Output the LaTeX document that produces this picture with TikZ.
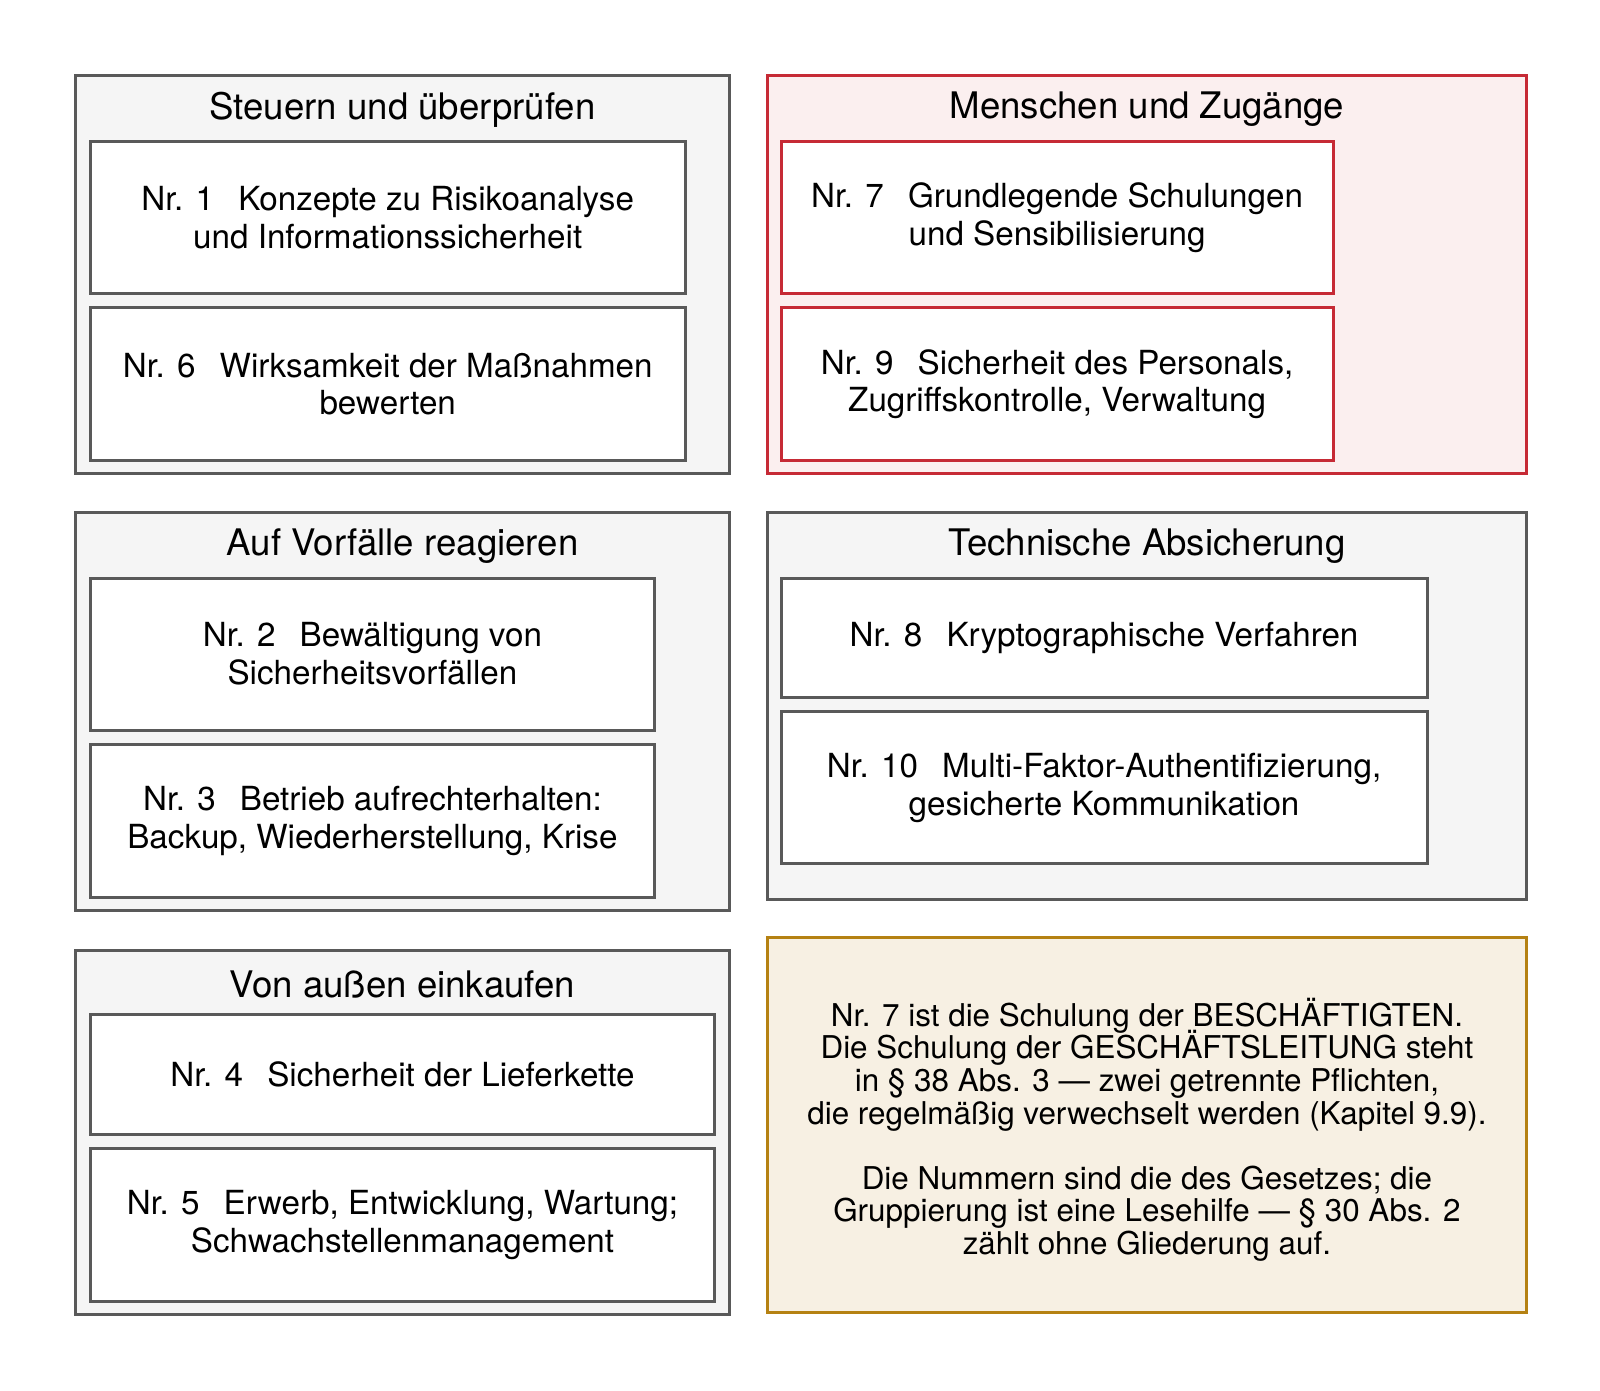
\documentclass[tikz,border=0pt]{standalone}
\usepackage{fontspec}
\setmainfont{TeX Gyre Heros}
\usepackage{xcolor}
\usetikzlibrary{positioning}

\definecolor{linegray}{HTML}{595959}
\definecolor{groupgray}{HTML}{F5F5F5}
\definecolor{linered}{HTML}{C62A35}
\definecolor{fillred}{HTML}{FBEFEF}
\definecolor{linegold}{HTML}{B58112}
\definecolor{fillgold}{HTML}{F7F0E3}

\newcommand{\pxu}{0.5102pt}
\newcommand{\itemfont}{\fontsize{16.6}{18.9}\selectfont\lineskiplimit=-10pt}
\newcommand{\titlefont}{\fontsize{18.3}{21}\selectfont}
\newcommand{\notefont}{\fontsize{15.7}{16.3}\selectfont\lineskiplimit=-10pt}
\newcommand{\gap}{\hspace{0.45em} }

\tikzset{
  group/.style={draw=linegray, fill=groupgray, line width=1.5pt, anchor=north west, inner sep=0pt, minimum width=640*\pxu},
  redgroup/.style={group, draw=linered, fill=fillred},
  item/.style={draw=linegray, fill=white, line width=1.5pt, anchor=north west, inner sep=0pt, align=center, font=\itemfont},
  reditem/.style={item, draw=linered},
  title/.style={font=\titlefont, inner sep=0pt},
  note/.style={draw=linegold, fill=fillgold, line width=1.5pt, anchor=north west, inner sep=0pt, align=center, font=\notefont}
}

\begin{document}
\begin{tikzpicture}[x=\pxu, y=-\pxu]
        \useasboundingbox (0,0) rectangle (1568,1362.2);

        % Groups
        \node[group, minimum height=390*\pxu] (g1) at (73,73) {};
        \node[redgroup, minimum width=743*\pxu, minimum height=390*\pxu] (g2) at (751,73) {};
        \node[group, minimum height=390*\pxu] (g3) at (73,501) {};
        \node[group, minimum width=743*\pxu, minimum height=379*\pxu] (g4) at (751,501) {};
        \node[group, minimum height=357*\pxu] (g5) at (73,930) {};

        % Group titles
        \node[title] (t1) at ([yshift=-17.5pt]g1.north) {Steuern und überprüfen};
        \node[title] (t2) at ([yshift=-17.5pt]g2.north) {Menschen und Zugänge};
        \node[title] (t3) at ([yshift=-17.5pt]g3.north) {Auf Vorfälle reagieren};
        \node[title] (t4) at ([yshift=-17.5pt]g4.north) {Technische Absicherung};
        \node[title] (t5) at ([yshift=-17.5pt]g5.north) {Von außen einkaufen};

        % Measures
        \node[item, minimum width=583*\pxu, minimum height=149*\pxu] (n1) at (87,137) {Nr. 1\gap Konzepte zu Risikoanalyse\\und Informationssicherheit};
        \node[item, minimum width=583*\pxu, minimum height=150*\pxu] (n6) at (87,300) {Nr. 6\gap Wirksamkeit der Maßnahmen\\bewerten};
        \node[reditem, minimum width=541*\pxu, minimum height=149*\pxu] (n7) at (764,137) {Nr. 7\gap Grundlegende Schulungen\\und Sensibilisierung};
        \node[reditem, minimum width=541*\pxu, minimum height=150*\pxu] (n9) at (764,300) {Nr. 9\gap Sicherheit des Personals,\\Zugriffskontrolle, Verwaltung};
        \node[item, minimum width=553*\pxu, minimum height=149*\pxu] (n2) at (87,565) {Nr. 2\gap Bewältigung von\\Sicherheitsvorfällen};
        \node[item, minimum width=553*\pxu, minimum height=150*\pxu] (n3) at (87,728) {Nr. 3\gap Betrieb aufrechterhalten:\\Backup, Wiederherstellung, Krise};
        \node[item, minimum width=633*\pxu, minimum height=117*\pxu] (n8) at (764,565) {Nr. 8\gap Kryptographische Verfahren};
        \node[item, minimum width=633*\pxu, minimum height=149*\pxu] (n10) at (764,696) {Nr. 10\gap Multi-Faktor-Authentifizierung,\\gesicherte Kommunikation};
        \node[item, minimum width=612*\pxu, minimum height=117*\pxu] (n4) at (87,993) {Nr. 4\gap Sicherheit der Lieferkette};
        \node[item, minimum width=612*\pxu, minimum height=150*\pxu] (n5) at (87,1124) {Nr. 5\gap Erwerb, Entwicklung, Wartung;\\Schwachstellenmanagement};

        % Note
        \node[note, minimum width=743*\pxu, minimum height=368*\pxu] (hint) at (751,917) {};
        \node[font=\notefont, align=center, inner sep=0pt] (hinttext) at ([yshift=-2.3pt]hint.center) {Nr. 7 ist die Schulung der BESCHÄFTIGTEN.\\Die Schulung der GESCHÄFTSLEITUNG steht\\in § 38 Abs. 3 — zwei getrennte Pflichten,\\die regelmäßig verwechselt werden (Kapitel 9.9).\\[16.3pt]Die Nummern sind die des Gesetzes; die\\Gruppierung ist eine Lesehilfe — § 30 Abs. 2\\zählt ohne Gliederung auf.};
    \end{tikzpicture}
\end{document}
